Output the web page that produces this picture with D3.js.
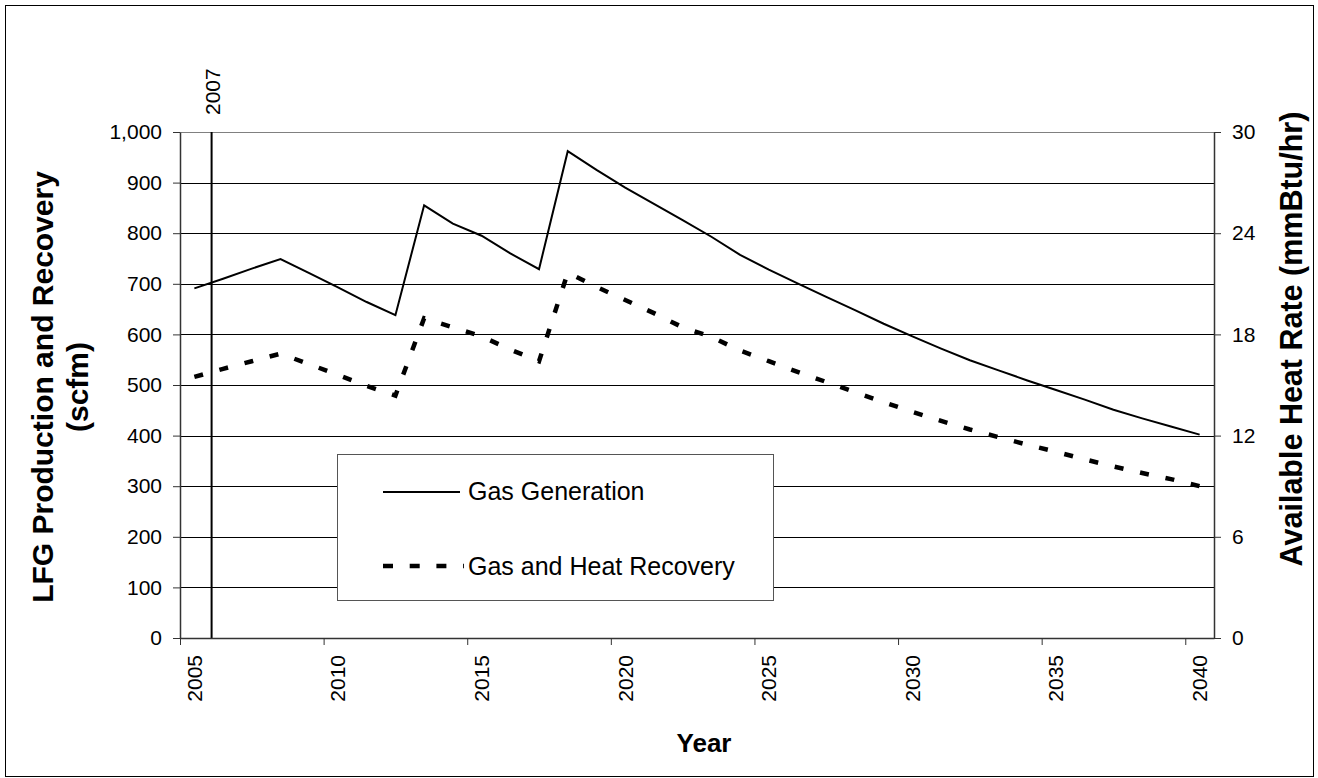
<!DOCTYPE html>
<html>
<head>
<meta charset="utf-8">
<script src="https://cdn.jsdelivr.net/npm/d3@7"></script>
<style>
body { margin: 0; background: #fff; }
svg { font-family: "Liberation Sans", Arial, sans-serif; }
</style>
</head>
<body>
<div id="chart"></div>
<script>
// categories (one point per year)
var years = [2005, 2006, 2007, 2008, 2009, 2010, 2011, 2012, 2013, 2014, 2015, 2016,
             2017, 2018, 2019, 2020, 2021, 2022, 2023, 2024, 2025, 2026, 2027, 2028,
             2029, 2030, 2031, 2032, 2033, 2034, 2035, 2036, 2037, 2038, 2039, 2040];

// scfm
var gasGeneration = [691, 710, 730, 749, 721, 693, 664, 638, 855, 819, 795, 760,
                     729, 962, 925, 890, 858, 826, 793, 757, 728, 701, 674, 648,
                     621, 596, 572, 549, 529, 509, 490, 471, 451, 434, 418, 402];
var gasHeatRecovery = [516, 532, 547, 562, 541, 520, 498, 479, 632, 614, 596, 570,
                       547, 722, 694, 668, 642, 614, 595, 568, 547, 526, 506, 486,
                       466, 447, 429, 412, 397, 382, 368, 353, 339, 326, 314, 300];

var xTickYears = [2005, 2010, 2015, 2020, 2025, 2030, 2035, 2040];
var leftTicks = [0, 100, 200, 300, 400, 500, 600, 700, 800, 900, 1000];
var rightTicks = [0, 6, 12, 18, 24, 30];

// vertical marker line (sits a little after the 2006 category start)
var markerPos = 2005.6;
var markerLabel = "2007";

var width = 1318, height = 778;
var plotLeft = 180, plotRight = 1214, plotTop = 132, plotBottom = 638;

var svg = d3.select("#chart").append("svg").attr("width", width).attr("height", height);

// outer chart border
svg.append("rect").attr("x", 5.5).attr("y", 5.5).attr("width", 1308).attr("height", 771)
    .attr("fill", "#fff").attr("stroke", "#000").attr("stroke-width", 1);

var x = d3.scaleLinear().domain([years[0] - 0.5, years[years.length - 1] + 0.5]).range([plotLeft, plotRight]);
var y = d3.scaleLinear().domain([0, 1000]).range([plotBottom, plotTop]);
var y2 = d3.scaleLinear().domain([0, 30]).range([plotBottom, plotTop]);

// gridlines
svg.append("g").selectAll("line").data(leftTicks.filter(d => d > 0)).enter().append("line")
    .attr("x1", plotLeft).attr("x2", plotRight)
    .attr("y1", d => Math.round(y(d)) + 0.5).attr("y2", d => Math.round(y(d)) + 0.5)
    .attr("stroke", d => d == 1000 ? "#808080" : "#000").attr("stroke-width", 1);

// marker line + label
svg.append("line").attr("x1", x(markerPos)).attr("x2", x(markerPos))
    .attr("y1", plotTop).attr("y2", plotBottom).attr("stroke", "#000").attr("stroke-width", 2);
svg.append("text").attr("transform", "translate(" + (x(markerPos) + 8) + ",115) rotate(-90)")
    .attr("font-size", 21).text(markerLabel);

// series
var line = d3.line().x((d, i) => x(years[i])).y(d => y(d));
svg.append("path").datum(gasGeneration).attr("d", line)
    .attr("fill", "none").attr("stroke", "#000").attr("stroke-width", 2);
svg.append("path").datum(gasHeatRecovery).attr("d", line)
    .attr("fill", "none").attr("stroke", "#000").attr("stroke-width", 4.5)
    .attr("stroke-dasharray", "9,17");

// axes
var yAxis = d3.axisLeft(y).tickValues(leftTicks).tickFormat(d3.format(","))
    .tickSize(7).tickSizeOuter(0).tickPadding(11);
var gy = svg.append("g").attr("transform", "translate(" + plotLeft + ",0)").call(yAxis);

var yAxis2 = d3.axisRight(y2).tickValues(rightTicks)
    .tickSize(7).tickSizeOuter(0).tickPadding(11);
var gy2 = svg.append("g").attr("transform", "translate(" + plotRight + ",0)").call(yAxis2);

var xAxis = d3.axisBottom(x).tickValues(xTickYears.map(d => d - 0.5)).tickFormat("")
    .tickSize(7).tickSizeOuter(0);
var gx = svg.append("g").attr("transform", "translate(0," + plotBottom + ")").call(xAxis);

[gy, gy2, gx].forEach(g => {
    g.select(".domain").attr("stroke", "#333").attr("stroke-width", 1.5);
    g.selectAll(".tick line").attr("stroke", "#333");
    g.selectAll("text").attr("font-size", 21).attr("fill", "#000")
        .style("font-family", "'Liberation Sans', Arial, sans-serif");
});

svg.append("g").selectAll("text").data(xTickYears).enter().append("text")
    .attr("transform", d => "translate(" + x(d) + ",655) rotate(-90)")
    .attr("text-anchor", "end").attr("dy", "0.35em").attr("font-size", 21)
    .text(d => d);

// axis titles
var ltitle = svg.append("text").attr("transform", "translate(53,387) rotate(-90)")
    .attr("text-anchor", "middle").attr("font-size", 30).attr("font-weight", "bold");
ltitle.append("tspan").attr("x", 0).attr("dy", 0).text("LFG Production and Recovery");
ltitle.append("tspan").attr("x", 0).attr("dy", 35).text("(scfm)");

svg.append("text").attr("transform", "translate(1302,339) rotate(-90)")
    .attr("text-anchor", "middle").attr("font-size", 30.5).attr("font-weight", "bold")
    .text("Available Heat Rate (mmBtu/hr)");

svg.append("text").attr("x", 704).attr("y", 752).attr("text-anchor", "middle")
    .attr("font-size", 26).attr("font-weight", "bold").text("Year");

// legend
var legend = svg.append("g");
legend.append("rect").attr("x", 337.5).attr("y", 454.5).attr("width", 436).attr("height", 146)
    .attr("fill", "#fff").attr("stroke", "#555").attr("stroke-width", 1);
legend.append("line").attr("x1", 383).attr("x2", 460).attr("y1", 492).attr("y2", 492)
    .attr("stroke", "#000").attr("stroke-width", 2);
legend.append("text").attr("x", 468).attr("y", 500).attr("font-size", 25).text("Gas Generation");
legend.append("line").attr("x1", 383).attr("x2", 464).attr("y1", 566).attr("y2", 566)
    .attr("stroke", "#000").attr("stroke-width", 4.5).attr("stroke-dasharray", "10,16.7");
legend.append("text").attr("x", 468).attr("y", 575).attr("font-size", 25).text("Gas and Heat Recovery");
</script>
</body>
</html>
